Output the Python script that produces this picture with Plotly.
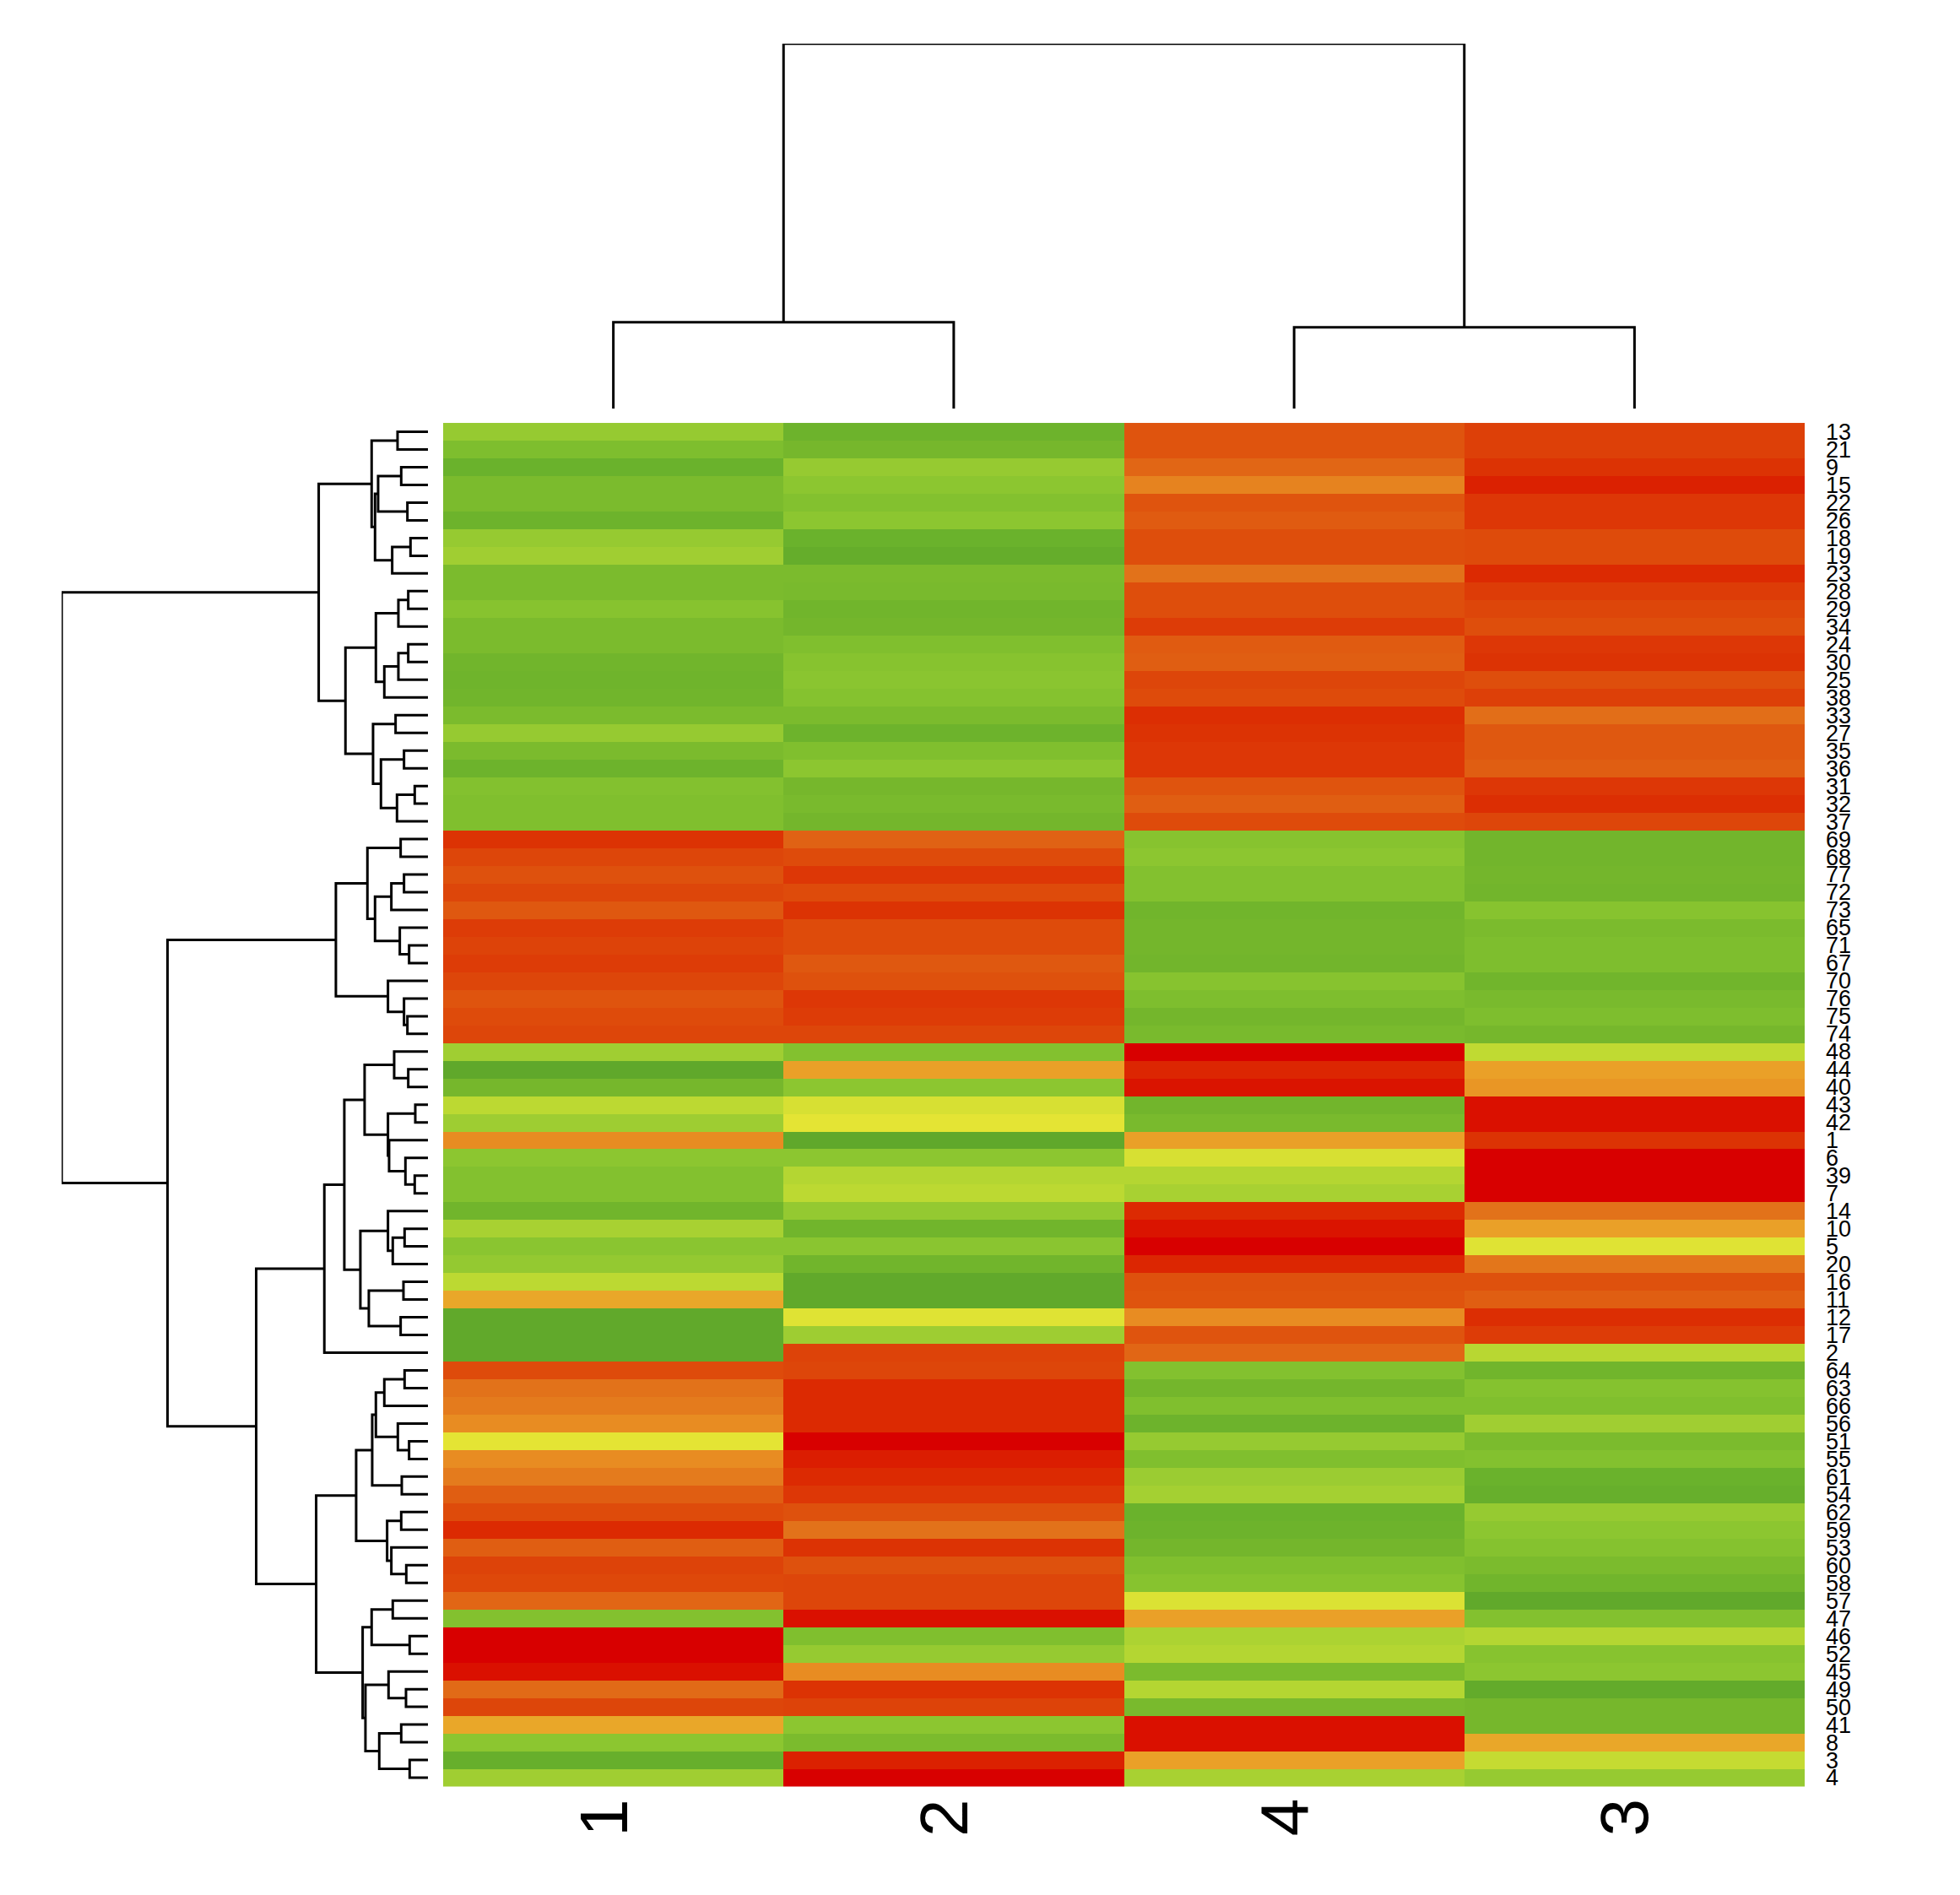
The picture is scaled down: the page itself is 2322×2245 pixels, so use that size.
import plotly.graph_objects as go

# row order as drawn (top to bottom)
row_labels = [13, 21, 9, 15, 22, 26, 18, 19, 23, 28, 29, 34, 24, 30, 25, 38, 33, 27, 35, 36, 31, 32, 37,
              69, 68, 77, 72, 73, 65, 71, 67, 70, 76, 75, 74,
              48, 44, 40, 43, 42, 1, 6, 39, 7, 14, 10, 5, 20, 16, 11, 12, 17, 2,
              64, 63, 66, 56, 51, 55, 61, 54, 62, 59, 53, 60, 58, 57, 47, 46, 52, 45, 49, 50, 41, 8, 3, 4]

col_labels = ["1", "2", "4", "3"]

# cell values (0 = red ... 1 = green), one list per column, in row order
col1 = [0.70, 0.80, 0.92, 0.82, 0.82, 0.90, 0.70, 0.66, 0.82, 0.82, 0.76, 0.82, 0.82, 0.88, 0.89, 0.88,
        0.82, 0.70, 0.82, 0.90, 0.78, 0.79, 0.79,
        0.12, 0.17, 0.21, 0.17, 0.23, 0.14, 0.16, 0.14, 0.17, 0.22, 0.19, 0.17,
        0.66, 0.98, 0.85, 0.59, 0.67, 0.36, 0.74, 0.78, 0.78, 0.88, 0.64, 0.75, 0.71, 0.59, 0.41, 0.97,
        0.97, 0.97,
        0.19, 0.30, 0.32, 0.36, 0.50, 0.36, 0.32, 0.25, 0.19, 0.10, 0.25, 0.16, 0.18, 0.27, 0.78, 0.00,
        0.00, 0.04, 0.28, 0.17, 0.41, 0.74, 0.94, 0.66]
col2 = [0.90, 0.85, 0.70, 0.74, 0.78, 0.74, 0.92, 0.95, 0.82, 0.83, 0.88, 0.86, 0.79, 0.76, 0.75, 0.77,
        0.82, 0.90, 0.79, 0.74, 0.85, 0.83, 0.86,
        0.26, 0.19, 0.13, 0.19, 0.12, 0.19, 0.19, 0.23, 0.21, 0.13, 0.14, 0.17,
        0.78, 0.40, 0.74, 0.53, 0.50, 0.98, 0.74, 0.61, 0.59, 0.71, 0.88, 0.75, 0.88, 0.97, 0.97, 0.51,
        0.67, 0.16,
        0.17, 0.10, 0.10, 0.10, 0.00, 0.07, 0.10, 0.13, 0.21, 0.30, 0.12, 0.21, 0.17, 0.17, 0.04, 0.79,
        0.70, 0.36, 0.12, 0.16, 0.74, 0.82, 0.08, 0.00]
col4 = [0.22, 0.22, 0.27, 0.34, 0.22, 0.24, 0.20, 0.20, 0.30, 0.20, 0.20, 0.14, 0.24, 0.25, 0.17, 0.19,
        0.11, 0.12, 0.13, 0.13, 0.22, 0.25, 0.19,
        0.76, 0.74, 0.78, 0.78, 0.88, 0.86, 0.86, 0.87, 0.76, 0.80, 0.86, 0.83,
        0.00, 0.09, 0.05, 0.87, 0.83, 0.40, 0.53, 0.61, 0.64, 0.10, 0.05, 0.00, 0.09, 0.21, 0.22, 0.36,
        0.22, 0.27,
        0.78, 0.86, 0.79, 0.90, 0.70, 0.79, 0.68, 0.65, 0.92, 0.90, 0.86, 0.79, 0.76, 0.52, 0.40, 0.63,
        0.61, 0.82, 0.61, 0.83, 0.04, 0.04, 0.40, 0.64]
col3 = [0.15, 0.15, 0.12, 0.08, 0.13, 0.13, 0.19, 0.19, 0.10, 0.14, 0.17, 0.20, 0.13, 0.12, 0.20, 0.15,
        0.29, 0.23, 0.23, 0.25, 0.13, 0.11, 0.17,
        0.87, 0.87, 0.86, 0.87, 0.76, 0.82, 0.80, 0.80, 0.88, 0.83, 0.80, 0.85,
        0.58, 0.40, 0.38, 0.04, 0.04, 0.12, 0.00, 0.00, 0.00, 0.30, 0.40, 0.51, 0.31, 0.21, 0.25, 0.11,
        0.14, 0.60,
        0.88, 0.77, 0.79, 0.66, 0.82, 0.78, 0.92, 0.94, 0.70, 0.74, 0.77, 0.82, 0.88, 0.97, 0.78, 0.61,
        0.76, 0.74, 0.96, 0.85, 0.85, 0.41, 0.57, 0.70]

# row clustering: (merge height, left, right), leaves are row labels
row_tree = (1301,
    (388,
        (200, (108, 13, 21),
              (188, (177, (95, 9, 15), (73, 22, 26)),
                    (127, (62, 18, 19), 23))),
        (293, (185, (105, (70, 28, 29), 34),
                    (155, (105, (70, 24, 30), 25), 38)),
              (195, (115, 33, 27),
                    (167, (85, 35, 36), (110, (47, 31, 32), 37))))),
    (925,
        (327, (215, (97, 69, 68),
                    (188, (130, (85, 77, 72), 73),
                          (100, 65, (67, 71, 67)))),
              (142, 70, (85, 76, (73, 75, 74)))),
        (610,
            (368, (297, (225, (120, 48, (70, 44, 40)),
                              (142, (45, 43, 42), (138, 1, (80, 6, (47, 39, 7))))),
                        (240, (142, 14, (125, (83, 10, 5), 20)),
                              (210, (87, 16, 11), (97, 12, 17)))),
                  2),
            (397, (255, (198, (185, (155, (83, 64, 63), 66), (107, 56, (67, 51, 55))),
                              (93, 61, 54)),
                        (145, (95, 62, 59), (130, 53, (77, 60, 58)))),
                  (232, (200, (125, 57, 47), (65, 46, 52)),
                        (222, (140, 45, (78, 49, 50)),
                              (173, (95, 41, 8), (65, 3, 4))))))))

col_tree = (431, (102, "1", "2"), (96, "4", "3"))

colorscale = [
    [0.00, "#D80000"], [0.05, "#DA1400"], [0.10, "#DC2A02"], [0.15, "#DD4008"],
    [0.20, "#DE4E0C"], [0.25, "#E05E12"], [0.30, "#E2721A"], [0.36, "#E88C22"],
    [0.40, "#EAA028"], [0.50, "#E4E434"], [0.58, "#C0DA32"], [0.66, "#A0CE32"],
    [0.74, "#8CC630"], [0.80, "#7EBE2E"], [0.86, "#74B62C"], [0.92, "#6AB22C"],
    [1.00, "#5CA42A"],
]


def walk(node, leaves, hs, ps):
    # returns (position, height); fills segment lists
    if not isinstance(node, tuple):
        leaves.append(node)
        return len(leaves) - 1, 0
    h, left, right = node
    pl, hl = walk(left, leaves, hs, ps)
    pr, hr = walk(right, leaves, hs, ps)
    hs += [hl, h, h, hr, None]
    ps += [pl, pl, pr, pr, None]
    return (pl + pr) / 2, h


row_leaves, row_h, row_p = [], [], []
walk(row_tree, row_leaves, row_h, row_p)
assert row_leaves == row_labels

col_leaves, col_h, col_p = [], [], []
walk(col_tree, col_leaves, col_h, col_p)
assert col_leaves == col_labels

z = [list(v) for v in zip(col1, col2, col4, col3)]

W, H = 2322, 2245
font = "Liberation Sans, Arial, Helvetica, sans-serif"
hm_bottom = 1 - 2113 / H

fig = go.Figure()

fig.add_trace(go.Heatmap(
    z=z, x=list(range(4)), y=list(range(len(row_labels))),
    colorscale=colorscale, zmin=0, zmax=1, showscale=False,
    xaxis="x", yaxis="y", hoverinfo="skip"))

fig.add_trace(go.Scatter(
    x=row_h, y=row_p, mode="lines", line=dict(color="black", width=3),
    xaxis="x2", yaxis="y", cliponaxis=False, hoverinfo="skip", showlegend=False))

fig.add_trace(go.Scatter(
    x=col_p, y=col_h, mode="lines", line=dict(color="black", width=3),
    xaxis="x", yaxis="y3", cliponaxis=False, hoverinfo="skip", showlegend=False))

# column labels, rotated, just under the heatmap
for i, lab in enumerate(col_labels):
    fig.add_annotation(x=i, xref="x", y=hm_bottom, yref="paper",
                       text=lab, textangle=-90, showarrow=False,
                       xanchor="center", yanchor="top", xshift=-12, yshift=-12,
                       font=dict(size=80, family=font, color="black"))

fig.update_layout(
    width=W, height=H,
    margin=dict(l=0, r=0, t=0, b=0),
    paper_bgcolor="white", plot_bgcolor="white",
    font=dict(family=font, color="black"),
    showlegend=False,
    xaxis=dict(domain=[517 / W, 2130 / W], range=[-0.5, 3.5], anchor="y",
               showticklabels=False, ticks="",
               showgrid=False, zeroline=False, showline=False),
    yaxis=dict(domain=[hm_bottom, 1 - 491 / H], range=[76.5, -0.5], anchor="x",
               side="right", tickvals=list(range(len(row_labels))),
               ticktext=[str(r) for r in row_labels], tickfont=dict(size=27),
               ticks="", ticklabelstandoff=24,
               showgrid=False, zeroline=False, showline=False),
    xaxis2=dict(domain=[65 / W, 499 / W], range=[1301, 0], anchor="y", visible=False),
    yaxis3=dict(domain=[1 - 474 / H, 1 - 40 / H], range=[0, 431], anchor="x", visible=False),
)

fig.write_html("out.html")
